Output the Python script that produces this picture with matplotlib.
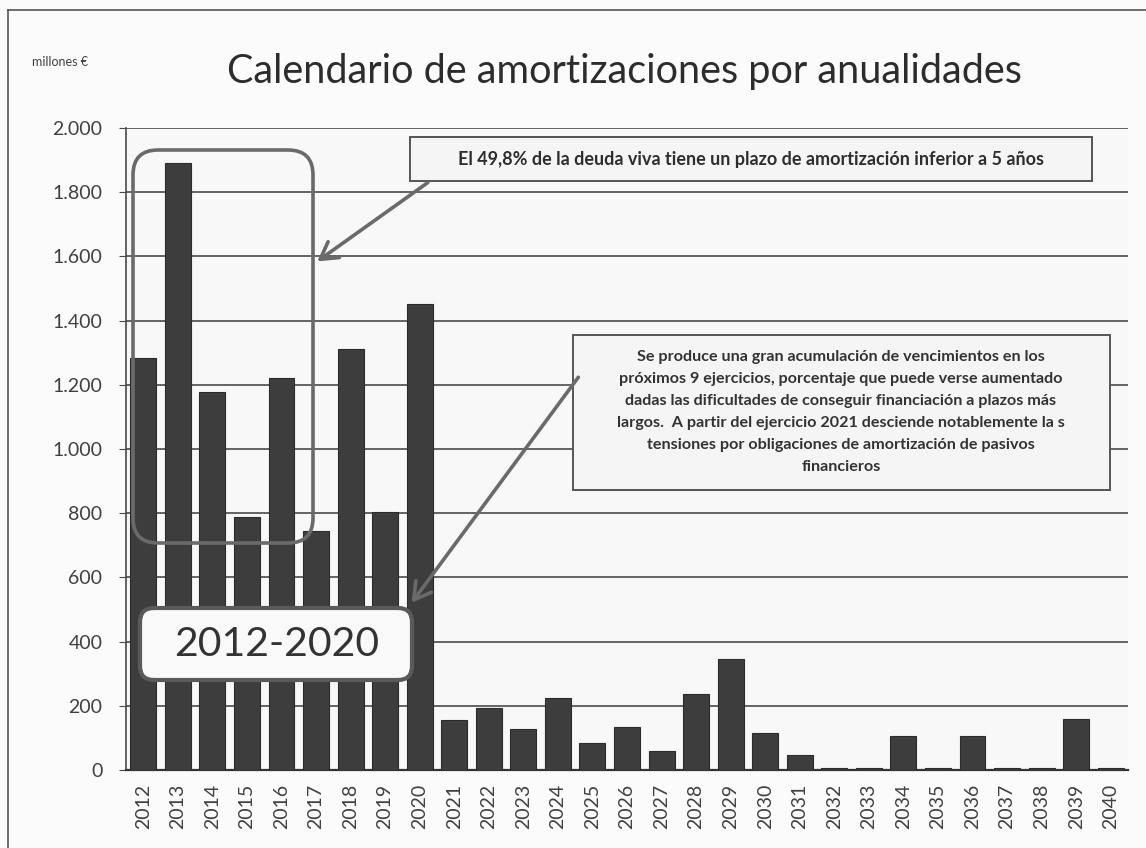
import matplotlib
matplotlib.use("Agg")
import matplotlib.pyplot as plt
from matplotlib.patches import FancyBboxPatch, Rectangle, FancyArrowPatch
from matplotlib.lines import Line2D
from matplotlib.ticker import FuncFormatter

years = [str(y) for y in range(2012, 2041)]
values = [1283, 1891, 1178, 788, 1221, 745, 1311, 804, 1452,
          155, 193, 128, 225, 83, 135, 58, 236, 347, 114, 47,
          7, 7, 107, 7, 107, 7, 7, 159, 7]
yticks = [0, 200, 400, 600, 800, 1000, 1200, 1400, 1600, 1800, 2000]

title = "Calendario de amortizaciones por anualidades"
unit_label = "millones €"
note1 = "El 49,8% de la deuda viva tiene un plazo de amortización inferior a 5 años"
note2 = ("Se produce una gran acumulación de vencimientos en los\n"
         "próximos 9 ejercicios, porcentaje que puede verse aumentado\n"
         "dadas las dificultades de conseguir financiación a plazos más\n"
         "largos.  A partir del ejercicio 2021 desciende notablemente la s\n"
         "tensiones por obligaciones de amortización de pasivos\n"
         "financieros")
period_label = "2012-2020"

plt.rcParams['font.family'] = ['Lato', 'DejaVu Sans']

W, H = 11.46, 8.48
fig = plt.figure(figsize=(W, H), dpi=100, facecolor='#fbfbfb')
ax = fig.add_axes([126/1146, 1-770/848, (1128-126)/1146, (770-128)/848])
ax.set_facecolor('#f8f8f8')

x = list(range(len(years)))
ax.bar(x, values, width=0.75, color='#3d3d3d', edgecolor='#2b2b2b', linewidth=0.8, zorder=3)
ax.set_xlim(-0.5, len(years) - 0.5)
ax.set_ylim(0, 2000)
ax.set_yticks(yticks)
ax.yaxis.set_major_formatter(FuncFormatter(lambda v, p: f"{int(v):,}".replace(",", ".")))
ax.set_xticks(x)
ax.set_xticklabels(years, rotation=90)
ax.grid(axis='y', color='#4a4a4a', linewidth=1.2, zorder=1)
for s in ['top', 'right']:
    ax.spines[s].set_visible(False)
ax.spines['left'].set_color('#4a4a4a')
ax.spines['left'].set_linewidth(1.2)
ax.spines['bottom'].set_color('#333333')
ax.spines['bottom'].set_linewidth(1.6)
ax.tick_params(axis='y', labelsize=14, labelcolor='#404040', color='#4a4a4a', length=5, pad=12)
ax.tick_params(axis='x', labelsize=14, labelcolor='#404040', length=0, pad=10)

T = fig.dpi_scale_trans

# outer frame
fig.add_artist(Line2D([0.08, 0.08], [0.0, H - 0.10], transform=T, color='#555555', lw=1.2))
fig.add_artist(Line2D([0.08, W], [H - 0.10, H - 0.10], transform=T, color='#555555', lw=1.2))

fig.text(6.24, H - 0.72, title, transform=T, ha='center', va='center',
         fontsize=28.5, color='#2c2c2c')
fig.text(0.60, H - 0.62, unit_label, transform=T, ha='center', va='center',
         fontsize=9, color='#404040')

# rounded outline around 2012-2016
fig.add_artist(FancyBboxPatch((1.33, H - 5.43), 1.80, 3.93,
                              boxstyle="round,pad=0,rounding_size=0.25",
                              transform=T, fill=False, edgecolor='#6a6a6a', lw=2.6, zorder=5))

# note 1 box
fig.add_artist(Rectangle((4.10, H - 1.81), 6.82, 0.44, transform=T,
                         facecolor='#f5f5f5', edgecolor='#555555', lw=1.4, zorder=5))
fig.text(7.51, H - 1.59, note1, transform=T, ha='center', va='center',
         fontsize=13, fontweight='bold', color='#2e2e2e', zorder=6)

# note 2 box
fig.add_artist(Rectangle((5.73, H - 4.90), 5.37, 1.55, transform=T,
                         facecolor='#f5f5f5', edgecolor='#555555', lw=1.4, zorder=5))
fig.text(8.41, H - 4.12, note2, transform=T, ha='center', va='center',
         fontsize=11.6, fontweight='bold', color='#333333', linespacing=1.72, zorder=6)

# 2012-2020 box
fig.add_artist(FancyBboxPatch((1.40, H - 6.80), 2.72, 0.72,
                              boxstyle="round,pad=0,rounding_size=0.14",
                              transform=T, facecolor='#f9f9f9', edgecolor='#5a5a5a', lw=3, zorder=5))
fig.text(2.77, H - 6.44, period_label, transform=T, ha='center', va='center',
         fontsize=29.5, color='#333333', zorder=6)

# arrows
fig.add_artist(FancyArrowPatch((4.30, H - 1.81), (3.15, H - 2.63),
               transform=T, arrowstyle='->,head_length=0.6,head_width=0.35',
               mutation_scale=20, color='#6a6a6a', lw=2.6, zorder=7))
fig.add_artist(FancyArrowPatch((5.80, H - 3.75), (4.10, H - 6.05),
               transform=T, arrowstyle='->,head_length=0.6,head_width=0.35',
               mutation_scale=20, color='#6a6a6a', lw=2.6, zorder=7))

fig.savefig('out.png', dpi=100, facecolor=fig.get_facecolor())
